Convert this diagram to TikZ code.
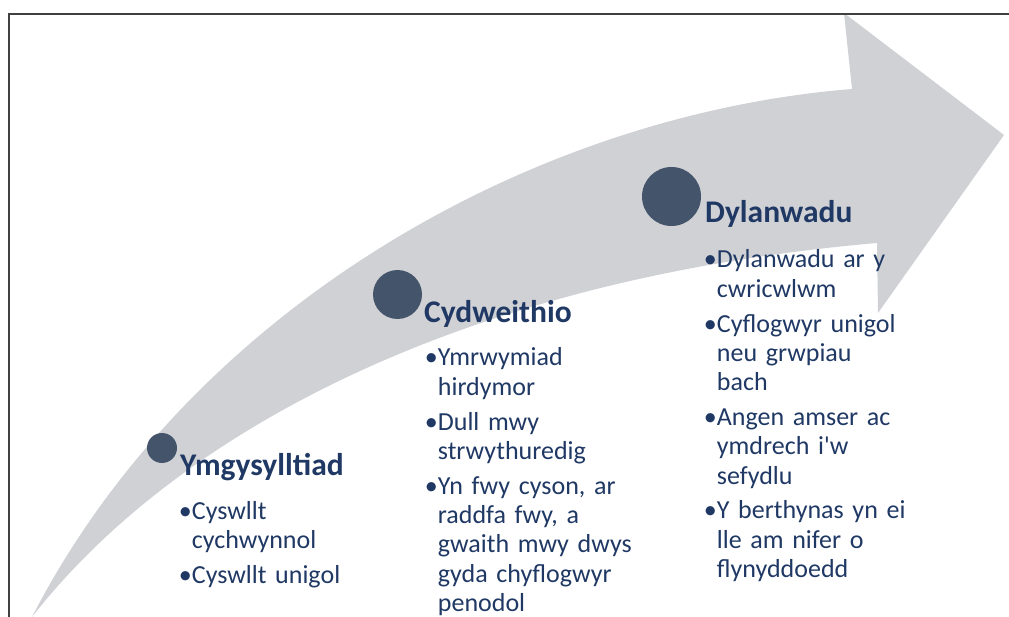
\documentclass[tikz,border=0pt]{standalone}
\usepackage{fontspec}
\setmainfont{Carlito}
\usetikzlibrary{positioning}
\definecolor{arrowgrey}{HTML}{D0D1D5}
\definecolor{dotblue}{HTML}{44546A}
\definecolor{navy}{HTML}{1F3864}
\definecolor{framegrey}{HTML}{404040}
\newcommand{\bul}{\leavevmode\llap{\textbullet}}
\newcommand{\pts}{\setlength{\parskip}{5.5pt}}
\begin{document}
\begin{tikzpicture}[x=1pt,y=-1pt]
      \tikzstyle{dot}=[circle,fill=dotblue,inner sep=0pt]
      \tikzstyle{stage}=[anchor=base west,inner sep=0pt,text=navy,font=\fontsize{31.5}{36}\selectfont\bfseries]
      \tikzstyle{points}=[anchor=base west,inner sep=0pt,text=navy,text width=240pt,align=left,font=\fontsize{26}{29.3}\selectfont]
      \useasboundingbox (0,0) rectangle (1009,617);

      % the big curved arrow
      \fill[arrowgrey] (32,617) .. controls (190,310) and (530,115) .. (852,89)
        -- (844,13) -- (1004,135) -- (878,313) -- (877,243)
        .. controls (450,280) and (170,440) .. (32,617) -- cycle;

      \draw[framegrey,line width=2.3pt] (9.3,617) -- (9.3,13.7) -- (1009,13.7);

      \node[dot,minimum size=30pt] (dot1) at (162,448) {};
      \node[dot,minimum size=49pt] (dot2) at (397.5,294.5) {};
      \node[dot,minimum size=59pt] (dot3) at (671.5,196.5) {};

      \node[stage] (ymg) at (180,475) {Ymgysylltiad};
      \node[stage] (cyd) at (424,323) {Cydweithio};
      \node[stage] (dyl) at (705,223) {Dylanwadu};

      \node[points] (ymgpts) at (191.7,519) {\pts\bul Cyswllt\\cychwynnol\par
        \bul Cyswllt unigol};
      \node[points] (cydpts) at (437.7,366) {\pts\bul Ymrwymiad\\hirdymor\par
        \bul Dull mwy\\strwythuredig\par
        \bul Yn fwy cyson, ar\\raddfa fwy, a\\gwaith mwy dwys\\gyda chyflogwyr\\penodol};
      \node[points] (dylpts) at (716.7,268) {\pts\bul Dylanwadu ar y\\cwricwlwm\par
        \bul Cyflogwyr unigol\\neu grwpiau\\bach\par
        \bul Angen amser ac\\ymdrech i\textquotesingle w\\sefydlu\par
        \bul Y berthynas yn ei\\lle am nifer o\\flynyddoedd};
\end{tikzpicture}
\end{document}
